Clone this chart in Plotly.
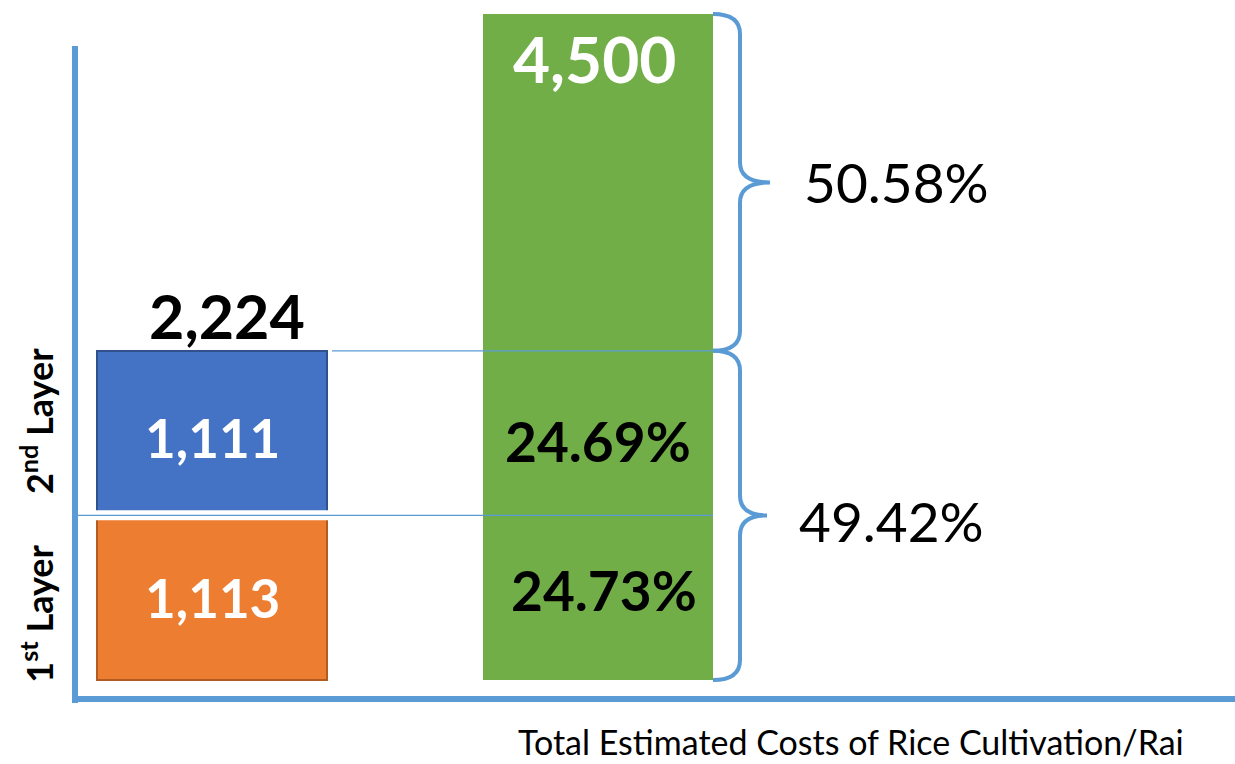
import plotly.graph_objects as go

# ---------------- data ----------------
layer_names = ["1st Layer", "2nd Layer"]
layer_costs = [1113, 1111]          # cost per layer (Baht/Rai)
total_cost = 4500                   # total estimated cost
x_title = "Total Estimated Costs of Rice Cultivation/Rai"

# derived values
stack_total = sum(layer_costs)
pct_layer1 = layer_costs[0] / total_cost * 100
pct_layer2 = layer_costs[1] / total_cost * 100
pct_layers = stack_total / total_cost * 100
pct_rest = (total_cost - stack_total) / total_cost * 100

# ---------------- styling / geometry ----------------
W, H = 1235, 764
FONT = "Lato"
AXIS_BLUE = "#5B9BD5"
ORANGE, ORANGE_EDGE = "#ED7D31", "#B15C22"
BLUE, BLUE_EDGE = "#4472C4", "#2F528F"
GREEN = "#72AE48"

PX_X = 386.0        # pixels per x unit
X0_PX = 212.0       # pixel of x = 0
PX_Y = 0.148        # pixels per y unit
Y0_PX = 680.0       # pixel (from top) of y = 0
BAR_W = 230.0 / PX_X

x_range = [-X0_PX / PX_X, (W - X0_PX) / PX_X]
y_range = [-(H - Y0_PX) / PX_Y, Y0_PX / PX_Y]


def xd(px):
    return (px - X0_PX) / PX_X


X_STACK, X_TOTAL = 0, 1

fig = go.Figure()
fig.add_trace(go.Bar(x=[X_STACK], y=[layer_costs[0]], width=BAR_W, name=layer_names[0],
                     marker=dict(color=ORANGE, line=dict(color=ORANGE_EDGE, width=2))))
fig.add_trace(go.Bar(x=[X_STACK], y=[layer_costs[1]], width=BAR_W, name=layer_names[1],
                     marker=dict(color=BLUE, line=dict(color=BLUE_EDGE, width=2))))
fig.add_trace(go.Bar(x=[X_TOTAL], y=[total_cost], width=BAR_W, name="Total",
                     marker=dict(color=GREEN, line=dict(width=0))))

shapes = []
# axis lines
shapes.append(dict(type="line", xref="paper", yref="paper",
                   x0=75 / W, x1=75 / W, y0=1 - 46 / H, y1=1 - 703 / H,
                   line=dict(color=AXIS_BLUE, width=6)))
shapes.append(dict(type="line", xref="paper", yref="paper",
                   x0=72 / W, x1=1, y0=1 - 699 / H, y1=1 - 699 / H,
                   line=dict(color=AXIS_BLUE, width=6)))
# gap between stacked boxes
shapes.append(dict(type="line", xref="x", yref="y", layer="above",
                   x0=X_STACK - BAR_W / 2 - 0.01, x1=X_STACK + BAR_W / 2 + 0.01,
                   y0=layer_costs[0], y1=layer_costs[0],
                   line=dict(color="white", width=10)))
# guide lines
bar_right = X_TOTAL + BAR_W / 2
shapes.append(dict(type="line", xref="x", yref="y", layer="above",
                   x0=xd(78), x1=bar_right, y0=layer_costs[0], y1=layer_costs[0],
                   line=dict(color=AXIS_BLUE, width=1.3)))
shapes.append(dict(type="line", xref="x", yref="y", layer="above",
                   x0=xd(332), x1=bar_right, y0=stack_total, y1=stack_total,
                   line=dict(color=AXIS_BLUE, width=1.3)))


def brace(y0, y1, tip_px):
    xe = bar_right
    xs = xd(740)
    xt = xd(tip_px)
    r = 20 / PX_Y
    ym = (y0 + y1) / 2
    p = (f"M {xe},{y1} Q {xs},{y1} {xs},{y1 - r} L {xs},{ym + r} "
         f"Q {xs},{ym} {xt},{ym} Q {xs},{ym} {xs},{ym - r} "
         f"L {xs},{y0 + r} Q {xs},{y0} {xe},{y0}")
    return dict(type="path", xref="x", yref="y", path=p, layer="above",
                line=dict(color=AXIS_BLUE, width=4))


shapes.append(brace(stack_total, total_cost, 770))
shapes.append(brace(0, stack_total, 767))

ann = []


def txt(text, x, y, size, color="black", bold=True, **kw):
    t = f"<b>{text}</b>" if bold else text
    d = dict(text=t, x=x, y=y, xref="x", yref="y", showarrow=False,
             xanchor="center", yanchor="middle",
             font=dict(family=FONT, size=size, color=color))
    d.update(kw)
    ann.append(d)


txt(f"{stack_total:,}", X_STACK, stack_total, 61, yanchor="bottom", yshift=-3, xshift=15)
txt(f"{layer_costs[0]:,}", X_STACK, layer_costs[0] / 2, 53, "white")
txt(f"{layer_costs[1]:,}", X_STACK, layer_costs[0] + layer_costs[1] / 2, 53, "white", yshift=-4)
txt(f"{total_cost:,}", X_TOTAL, total_cost, 64, "white", yanchor="top", yshift=-4, xshift=-4)
txt(f"{pct_layer2:.2f}%", X_TOTAL, layer_costs[0] + layer_costs[1] / 2, 55, yshift=-8)
txt(f"{pct_layer1:.2f}%", X_TOTAL, layer_costs[0] / 2, 55, xshift=6, yshift=8)
txt(f"{pct_rest:.2f}%", xd(770), (stack_total + total_cost) / 2, 55, bold=False,
    xanchor="left", xshift=32)
txt(f"{pct_layers:.2f}%", xd(767), stack_total / 2, 55, bold=False,
    xanchor="left", xshift=30, yshift=-6)

# layer labels (rotated)
ann.append(dict(text="<b>2<sup>nd</sup> Layer</b>", xref="paper", yref="y",
                x=37 / W, y=layer_costs[0] + layer_costs[1] / 2, yshift=12,
                xanchor="center", yanchor="middle",
                textangle=-90, showarrow=False,
                font=dict(family=FONT, size=36, color="black")))
ann.append(dict(text="<b>1<sup>st</sup> Layer</b>", xref="paper", yref="y",
                x=37 / W, y=layer_costs[0] / 2, yshift=-16,
                xanchor="center", yanchor="middle",
                textangle=-90, showarrow=False,
                font=dict(family=FONT, size=36, color="black")))
# x title
ann.append(dict(text=x_title, xref="paper", yref="paper", x=851 / W, y=1 - 741 / H,
                xanchor="center", yanchor="middle",
                showarrow=False, font=dict(family=FONT, size=34, color="black")))

fig.update_layout(
    width=W, height=H, margin=dict(l=0, r=0, t=0, b=0),
    barmode="stack", showlegend=False,
    plot_bgcolor="white", paper_bgcolor="white",
    xaxis=dict(range=x_range, visible=False, fixedrange=True),
    yaxis=dict(range=y_range, visible=False, fixedrange=True),
    shapes=shapes, annotations=ann,
)

fig.write_html("out.html", config={"displayModeBar": False},
               post_script="document.body.style.margin='0';")
